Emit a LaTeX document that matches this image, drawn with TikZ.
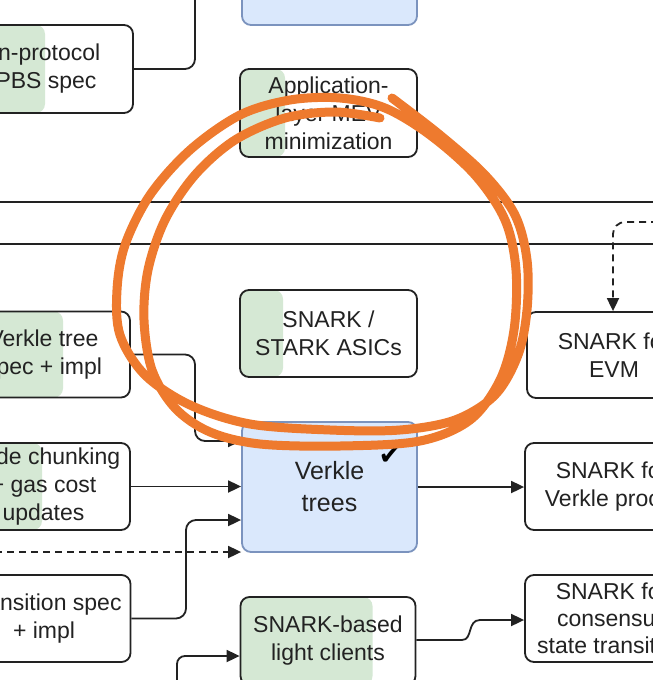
\documentclass[tikz,border=0pt]{standalone}
\usepackage{fontspec}
\setmainfont{Liberation Sans}
\newfontfamily\symfont{DejaVu Sans}
\usetikzlibrary{arrows.meta}
\definecolor{gfill}{HTML}{D5E8D4}
\definecolor{bfill}{HTML}{DAE8FC}
\definecolor{bdraw}{HTML}{7B93BE}
\definecolor{ink}{HTML}{222222}
\definecolor{pen}{HTML}{EE7A2E}
\tikzset{
  box/.style={draw=ink, line width=1.8pt, rounded corners=9pt, fill=white,
    minimum width=175pt, minimum height=88pt, align=center, text=ink,
    font=\fontsize{23}{28}\selectfont, inner sep=0pt},
  bluebox/.style={box, fill=bfill, draw=bdraw},
  greenpart/.style={path picture={\fill[gfill] (path picture bounding box.north west) rectangle ([xshift=#1]path picture bounding box.south west);}},
  conn/.style={draw=ink, line width=1.8pt, rounded corners=10pt},
  arr/.style={conn, -{Triangle[length=13pt,width=12pt]}},
  dashconn/.style={dash pattern=on 7pt off 5pt},
  lane/.style={draw=ink, line width=1.8pt},
  scribble/.style={draw=pen, line width=9pt, line cap=round, line join=round}
}
\begin{document}
\begin{tikzpicture}[x=1pt,y=-1pt]
\useasboundingbox (0,0) rectangle (653,680);
\clip (0,0) rectangle (653,680);
\fill[white] (0,0) rectangle (653,680);

% swimlane borders
\coordinate (h1a) at (-10,202); \coordinate (h1b) at (670,202);
\coordinate (h2a) at (-10,244); \coordinate (h2b) at (670,244);
\draw[lane] (h1a) -- (h1b);
\draw[lane] (h2a) -- (h2b);

% nodes
\node[bluebox, minimum width=175pt] (top) at (329.5,-19) {};
\node[box, greenpart=86pt, minimum width=174pt] (pbs) at (46,69) {In-protocol\\PBS spec};
\node[box, greenpart=45pt, minimum width=177pt] (app) at (328.5,113) {Application-\\layer MEV\\minimization};
\node[box, greenpart=43pt, minimum width=177pt, minimum height=87pt] (asic) at (328.5,333.5) {SNARK /\\STARK ASICs};
\node[box, minimum width=174pt, minimum height=86pt] (evm) at (614,355) {SNARK for\\EVM};
\node[box, greenpart=106pt, minimum width=173pt, minimum height=86pt] (vspec) at (43.5,354.5) {Verkle tree\\spec + impl};
\node[box, greenpart=85pt, minimum width=173pt, minimum height=87pt] (chunk) at (43.5,486.5) {Code chunking\\+ gas cost\\updates};
\node[bluebox, minimum width=175pt, minimum height=130pt, font=\fontsize{25}{32}\selectfont] (verkle) at (329.5,487) {Verkle\\trees};
\node[box, minimum width=174pt, minimum height=87pt] (vproof) at (612,486.5) {SNARK for\\Verkle proofs};
\node[box, minimum width=173pt, minimum height=87pt] (trans) at (44,618.5) {Transition spec\\+ impl};
\node[box, greenpart=132pt, minimum width=175pt, minimum height=88pt] (light) at (328,641) {SNARK-based\\light clients};
\node[box, minimum width=174pt, minimum height=87pt, font=\fontsize{23}{27}\selectfont] (cons) at (612,618.5) {SNARK for\\consensus\\state transition};

\node[font=\symfont\fontsize{27}{27}\selectfont, text=black, inner sep=0pt] (chk) at (390,456) {✔};

% connectors
\coordinate (p1) at (195,-20);
\draw[conn] (pbs.east) -| (p1);

\coordinate (c1) at (195,441);
\draw[arr] (vspec.east) -| (c1) -- (verkle.west |- c1);

\draw[arr] (chunk.east) -- (verkle.west |- chunk.east);

\coordinate (c2) at (186,520);
\draw[arr] (trans.east) -| (c2) -- (verkle.west |- c2);

\coordinate (d0) at (-5,552);
\draw[arr, dashconn] (d0) -- (verkle.west |- d0);

\coordinate (c3) at (177,700); \coordinate (c3b) at (177,656);
\draw[arr, rounded corners=8pt] (c3) -- (c3b) -- (light.west |- c3b);

\draw[arr] (verkle.east) -- (vproof.west |- verkle.east);

\coordinate (s1) at (462,640); \coordinate (s2) at (480,620);
\draw[arr, rounded corners=0pt] (light.east |- s1) -- (s1) .. controls (473,640) and (467,620) .. (s2) -- (cons.west |- s2);

\coordinate (e0) at (670,222); \coordinate (e1) at (613,222);
\draw[arr, dashconn, rounded corners=12pt] (e0) -- (e1) -- (evm.north -| e1);

% hand-drawn orange circle
\draw[scribble] plot[smooth, tension=0.55] coordinates {
 (392,98) (440,135) (485,175) (515,215) (527,260) (527,310) (518,355) (495,395)
 (455,420) (400,430) (330,430) (250,424) (190,405) (145,375) (120,335) (117,290)
 (125,245) (150,195) (190,150) (240,115) (290,100) (340,98) (385,108)
 (430,135) (475,175) (505,220) (516,270) (514,330) (500,380) (470,420) (420,441)
 (340,446) (260,444) (210,432) (175,408) (152,370) (144,320) (148,270) (165,220)
 (195,175) (235,140) (285,118) (335,112) (380,118)};
\end{tikzpicture}
\end{document}
